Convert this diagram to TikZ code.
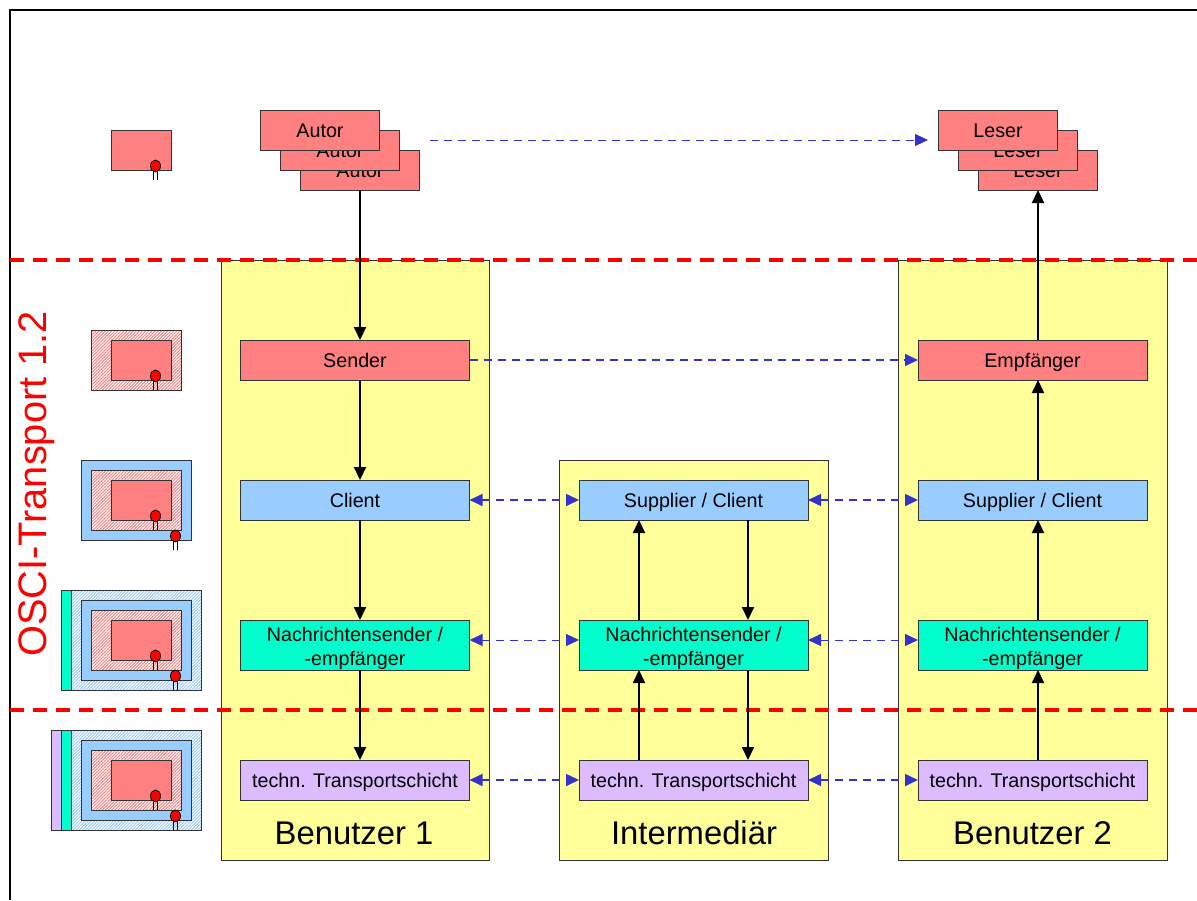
\documentclass[tikz,border=0pt]{standalone}
\usepackage{fontspec}
\setmainfont{Liberation Sans}
\usetikzlibrary{arrows.meta,patterns.meta}
\definecolor{pinkb}{HTML}{FF8080}
\definecolor{blueb}{HTML}{99CCFF}
\definecolor{tealb}{HTML}{00FFCC}
\definecolor{purpb}{HTML}{DDBBFF}
\definecolor{yellowb}{HTML}{FFFF99}
\definecolor{linkb}{HTML}{3333CC}
\definecolor{edgeb}{HTML}{333333}
\newcommand{\lnstrut}{\rule[-6pt]{0pt}{26pt}}
\newcommand{\topstrut}{\rule{0pt}{20pt}}
\newcommand{\botstrut}{\rule[-6pt]{0pt}{6pt}}
\newcommand{\lowln}[1]{\raisebox{-11.5pt}[0pt][0pt]{#1}}
\tikzset{
  zone/.style={draw=edgeb,line width=1pt,fill=yellowb,anchor=north west,inner sep=0pt,outer sep=0pt},
  bx/.style={draw=edgeb,line width=1pt,inner sep=0pt,outer sep=0pt,align=center,
     font=\fontsize{19.7}{24}\selectfont,
     execute at begin node=\lnstrut,execute at end node=\lnstrut},
  sizeA/.style={minimum width=229,minimum height=40},
  sizeB/.style={minimum width=229,minimum height=50},
  pinkbox/.style={bx,sizeA,fill=pinkb},
  bluebox/.style={bx,sizeA,fill=blueb},
  tealbox/.style={bx,sizeB,fill=tealb,execute at begin node=\topstrut,execute at end node=\botstrut},
  purpbox/.style={bx,sizeA,fill=purpb},
  stackbox/.style={bx,minimum width=119,minimum height=40,fill=pinkb},
  flow/.style={line width=2pt,-{Triangle[length=13pt,width=12pt]}},
  linkbase/.style={draw=linkb,{Triangle[length=13pt,width=12pt]}-{Triangle[length=13pt,width=12pt]}},
  linkthick/.style={linkbase,line width=1.6pt,dash pattern=on 8pt off 6pt},
  linkthin/.style={linkbase,line width=0.9pt,dash pattern=on 8pt off 6pt},
  oneway/.style={draw=linkb,-{Triangle[length=13pt,width=12pt]}},
  redline/.style={draw=red,line width=3.5pt,dash pattern=on 14pt off 9pt},
  zonelabel/.style={font=\fontsize{32.8}{36}\selectfont,inner sep=0pt},
  rpink/.style={draw=edgeb,line width=1pt,fill=pinkb},
  rblue/.style={draw=edgeb,line width=1pt,fill=blueb},
  rteal/.style={draw=edgeb,line width=1pt,fill=tealb},
  rpurp/.style={draw=edgeb,line width=1pt,fill=purpb},
  hatchpink/.style={draw=edgeb,line width=1pt,preaction={fill=white},
     pattern={Lines[angle=45,distance=2.2pt,line width=1pt]},pattern color=pinkb},
  hatchblue/.style={draw=edgeb,line width=1pt,preaction={fill=white},
     pattern={Lines[angle=45,distance=2.2pt,line width=1pt]},pattern color=blueb},
}
\newcommand{\pinmark}[3]{% x, y of dot centre, leg end
  \draw[black,line width=0.8pt] (#1-2,#2) -- (#1-2,#3) (#1+2,#2) -- (#1+2,#3);
  \fill[red,draw=black,line width=0.8pt] (#1,#2) ellipse (5pt and 6pt);
}
\newcommand{\coreicon}[1]{% y of the top of the inner box
  \draw[rpink] (111,#1) rectangle (171,#1+40);
  \pinmark{155.5}{#1+36}{#1+50}
}
\begin{document}
\begin{tikzpicture}[x=1pt,y=-1pt]
\useasboundingbox (0,0) rectangle (1197,900);
\fill[white] (0,0) rectangle (1197,900);
\draw[black,line width=1.6pt] (10,900) -- (10,10) -- (1197,10);

% zones
\node[zone,minimum width=268,minimum height=600] (z1) at (221,260) {};
\node[zone,minimum width=269,minimum height=400] (z2) at (559,460) {};
\node[zone,minimum width=269,minimum height=600] (z3) at (898,260) {};
\node[zonelabel] (l1) at (354,833) {Benutzer 1};
\node[zonelabel] (l2) at (694,833) {Intermediär};
\node[zonelabel] (l3) at (1032.5,833) {Benutzer 2};

% red separators
\coordinate (r1a) at (10,260); \coordinate (r1b) at (1197,260);
\coordinate (r2a) at (10,710); \coordinate (r2b) at (1197,710);
\draw[redline] (r1a) -- (r1b);
\draw[redline] (r2a) -- (r2b);
\node[red,rotate=90,font=\fontsize{39.8}{44}\selectfont,inner sep=0pt] (osci) at (37,484) {OSCI-Transport 1.2};

% stacks
\node[stackbox] (a3) at (360,170) {Autor};
\node[stackbox] (a2) at (340,150) {Autor};
\node[stackbox] (a1) at (320,130) {Autor};
\node[stackbox] (e3) at (1038,170) {Leser};
\node[stackbox] (e2) at (1018,150) {Leser};
\node[stackbox] (e1) at (998,130) {Leser};

% column 1
\node[pinkbox] (s1) at (355,360) {Sender};
\node[bluebox] (c1) at (355,500) {Client};
\node[tealbox] (n1) at (355,645) {\lowln{Nachrichtensender /}\\\lowln{-empfänger}};
\node[purpbox] (t1) at (355,780) {techn. Transportschicht};
% column 2
\node[bluebox] (c2) at (693.5,500) {Supplier / Client};
\node[tealbox] (n2) at (693.5,645) {\lowln{Nachrichtensender /}\\\lowln{-empfänger}};
\node[purpbox] (t2) at (693.5,780) {techn. Transportschicht};
% column 3
\node[pinkbox] (s3) at (1032.5,360) {Empfänger};
\node[bluebox] (c3) at (1032.5,500) {Supplier / Client};
\node[tealbox] (n3) at (1032.5,645) {\lowln{Nachrichtensender /}\\\lowln{-empfänger}};
\node[purpbox] (t3) at (1032.5,780) {techn. Transportschicht};

% black flows
\draw[flow] (a3.south) -- (a3.south |- s1.north);
\draw[flow] ([xshift=5]s1.south) -- ([xshift=5]c1.north);
\draw[flow] ([xshift=5]c1.south) -- ([xshift=5]n1.north);
\draw[flow] ([xshift=5]n1.south) -- ([xshift=5]t1.north);
\draw[flow] ([xshift=-54.5]t2.north) -- ([xshift=-54.5]n2.south);
\draw[flow] ([xshift=-54.5]n2.north) -- ([xshift=-54.5]c2.south);
\draw[flow] ([xshift=54.5]c2.south) -- ([xshift=54.5]n2.north);
\draw[flow] ([xshift=54.5]n2.south) -- ([xshift=54.5]t2.north);
\draw[flow] ([xshift=5.5]t3.north) -- ([xshift=5.5]n3.south);
\draw[flow] ([xshift=5.5]n3.north) -- ([xshift=5.5]c3.south);
\draw[flow] ([xshift=5.5]c3.north) -- ([xshift=5.5]s3.south);
\draw[flow] ([xshift=5.5]s3.north) -- (e3.south);

% blue links
\coordinate (topfrom) at (430,140);
\coordinate (topto) at (928,140);
\draw[oneway,line width=0.9pt,dash pattern=on 8pt off 6pt] (topfrom) -- (topto);
\draw[oneway,line width=1.6pt,dash pattern=on 8pt off 6pt] (s1.east) -- (s3.west);
\draw[linkthick] (c1.east) -- (c2.west);
\draw[linkthick] (c2.east) -- (c3.west);
\draw[linkthin] ([yshift=5]n1.east) -- ([yshift=5]n2.west);
\draw[linkthin] ([yshift=5]n2.east) -- ([yshift=5]n3.west);
\draw[linkthick] (t1.east) -- (t2.west);
\draw[linkthick] (t2.east) -- (t3.west);

% icon 1
\coreicon{130}
% icon 2
\draw[hatchpink] (91,330) rectangle (181,390);
\coreicon{340}
% icon 3
\draw[rblue] (81,460) rectangle (191,540);
\draw[hatchpink] (91,470) rectangle (181,530);
\coreicon{480}
\pinmark{175.5}{536}{550}
% icon 4
\draw[hatchblue] (71,590) rectangle (201,690);
\draw[rteal] (61,590) rectangle (71,690);
\draw[rblue] (81,600) rectangle (191,680);
\draw[hatchpink] (91,610) rectangle (181,670);
\coreicon{620}
\pinmark{175.5}{676}{690}
% icon 5
\draw[hatchblue] (71,730) rectangle (201,830);
\draw[rpurp] (51,730) rectangle (61,830);
\draw[rteal] (61,730) rectangle (71,830);
\draw[rblue] (81,740) rectangle (191,820);
\draw[hatchpink] (91,750) rectangle (181,810);
\coreicon{760}
\pinmark{175.5}{816}{830}
\end{tikzpicture}
\end{document}
